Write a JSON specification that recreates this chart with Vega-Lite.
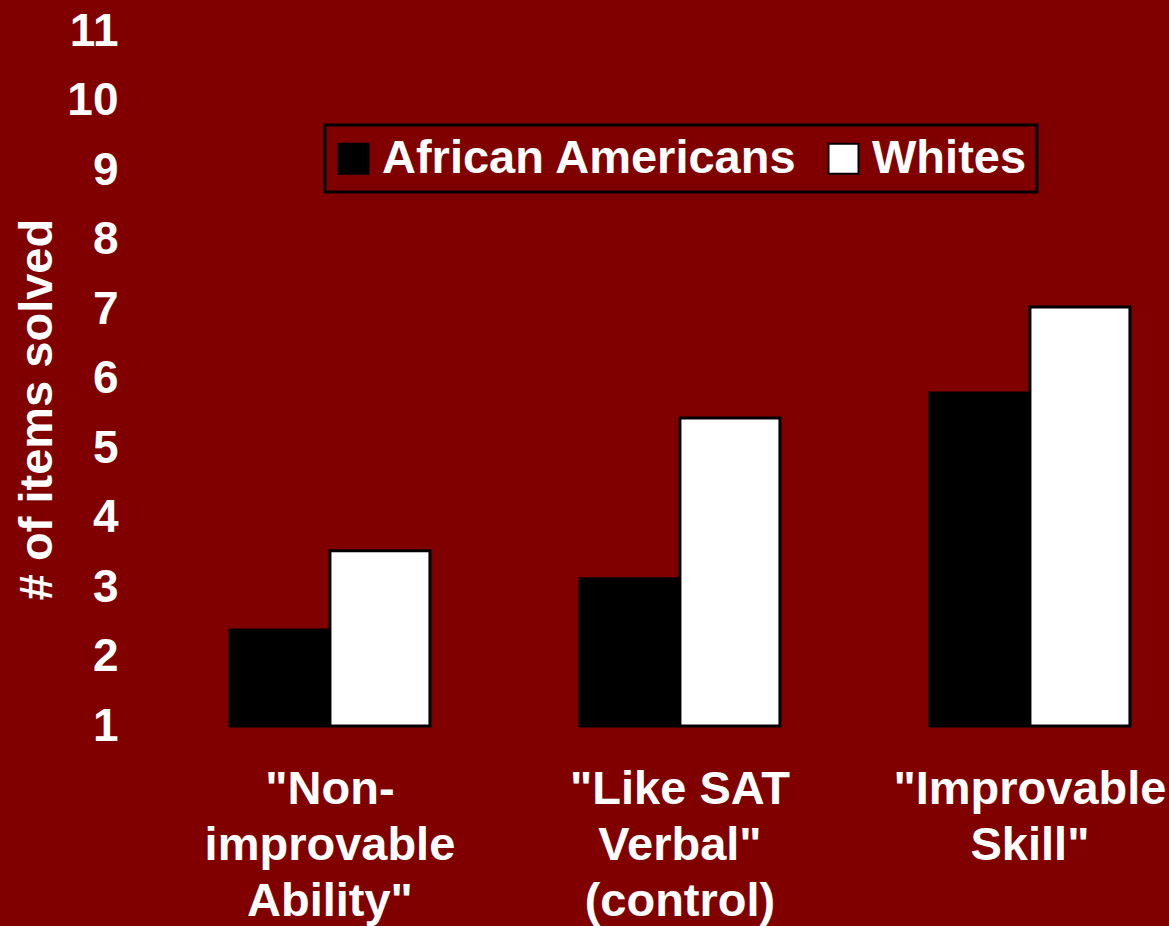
{
  "$schema": "https://vega.github.io/schema/vega-lite/v6.json",
  "autosize": "none",
  "width": 1039,
  "height": 695,
  "padding": {"left": 130, "top": 31, "right": 0, "bottom": 200},
  "background": "#800000",
  "config": {
    "view": {"stroke": null},
    "font": "Liberation Sans"
  },
  "data": {
    "values": [
      {"condition": "\"Non-\nimprovable\nAbility\"", "group": "African Americans", "solved": 2.38},
      {"condition": "\"Non-\nimprovable\nAbility\"", "group": "Whites", "solved": 3.52},
      {"condition": "\"Like SAT\nVerbal\"\n(control)", "group": "African Americans", "solved": 3.12},
      {"condition": "\"Like SAT\nVerbal\"\n(control)", "group": "Whites", "solved": 5.43},
      {"condition": "\"Improvable\nSkill\"", "group": "African Americans", "solved": 5.79},
      {"condition": "\"Improvable\nSkill\"", "group": "Whites", "solved": 7.03}
    ]
  },
  "mark": {"type": "bar", "stroke": "black", "strokeWidth": 3},
  "encoding": {
    "x": {
      "field": "condition",
      "type": "nominal",
      "sort": null,
      "scale": {"paddingInner": 0.4286, "paddingOuter": 0.1986, "align": 0.719},
      "axis": {
        "title": null,
        "domain": false,
        "ticks": false,
        "labelAngle": 0,
        "labelExpr": "split(datum.label, '\\n')",
        "labelColor": "white",
        "labelFont": "Liberation Sans",
        "labelFontWeight": "bold",
        "labelFontSize": 47,
        "labelLineHeight": 56,
        "labelPadding": 40,
        "labelBaseline": "top",
        "labelLimit": 0,
        "labelOverlap": false
      }
    },
    "xOffset": {"field": "group", "type": "nominal", "scale": {"paddingInner": 0}},
    "y": {
      "field": "solved",
      "type": "quantitative",
      "scale": {"domain": [1, 11], "nice": false, "zero": false},
      "axis": {
        "values": [1, 2, 3, 4, 5, 6, 7, 8, 9, 10, 11],
        "grid": false,
        "domain": false,
        "ticks": false,
        "labelPadding": 12,
        "labelColor": "white",
        "labelFont": "Liberation Sans",
        "labelFontWeight": "bold",
        "labelFontSize": 46,
        "title": "# of items solved",
        "titleColor": "white",
        "titleFont": "Liberation Sans",
        "titleFontWeight": "bold",
        "titleFontSize": 47,
        "titleBaseline": "middle",
        "titleX": -93,
        "titleY": 378
      }
    },
    "y2": {"datum": 1},
    "fill": {
      "field": "group",
      "type": "nominal",
      "scale": {"domain": ["African Americans", "Whites"], "range": ["black", "white"]},
      "legend": {
        "title": null,
        "orient": "none",
        "direction": "horizontal",
        "legendX": 195,
        "legendY": 94,
        "padding": 10,
        "strokeColor": "black",
        "symbolType": "square",
        "symbolSize": 900,
        "symbolOffset": -5,
        "symbolStrokeColor": "black",
        "symbolStrokeWidth": 2,
        "labelColor": "white",
        "labelFont": "Liberation Sans",
        "labelFontWeight": "bold",
        "labelFontSize": 47,
        "labelOffset": 5,
        "labelLimit": 0,
        "columnPadding": 26,
        "encode": {
          "legend": {"update": {"strokeWidth": {"value": 3}}}
        }
      }
    }
  }
}
